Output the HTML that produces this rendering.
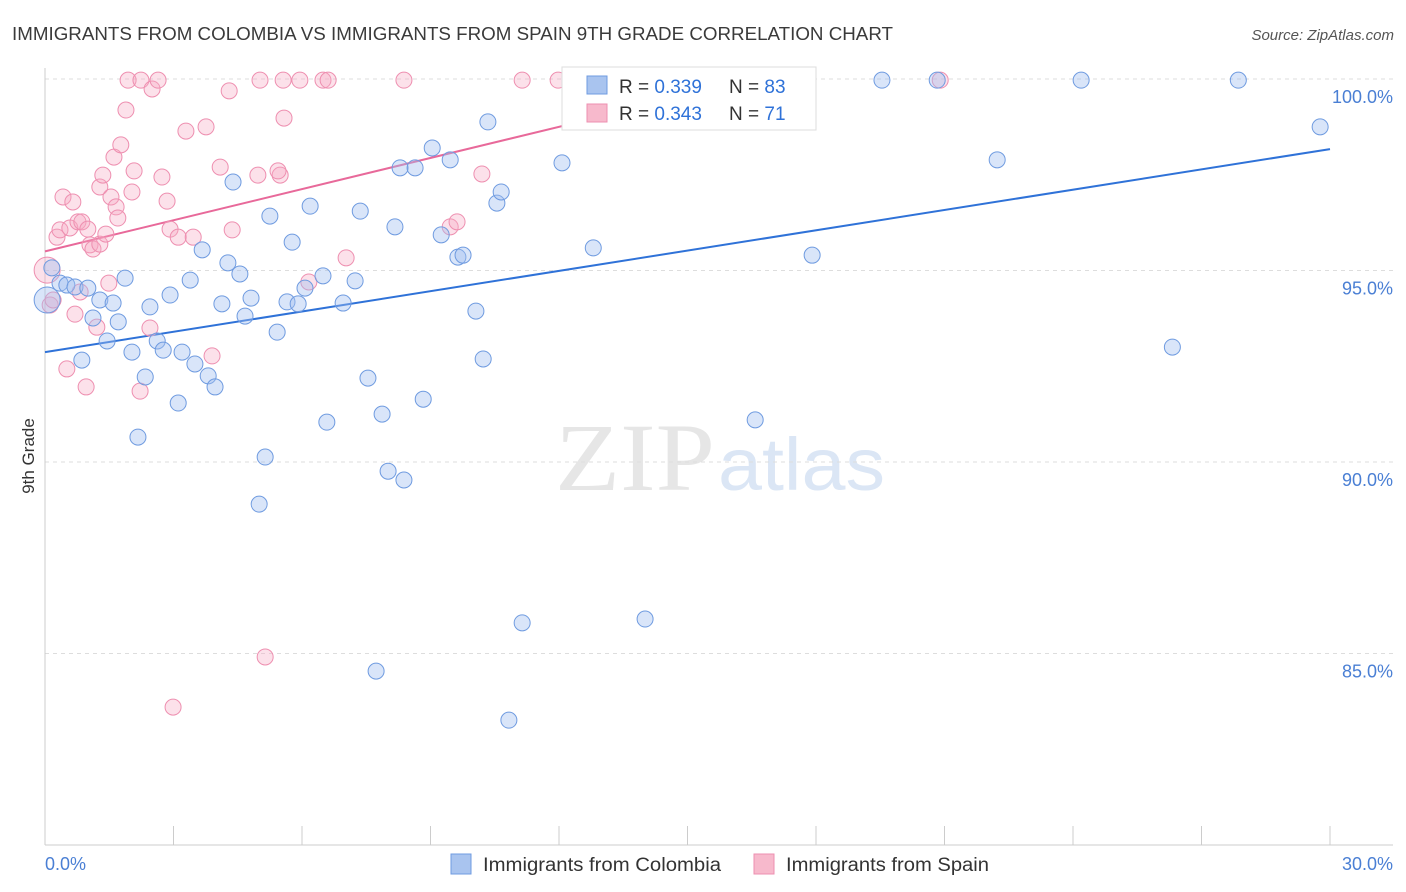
<!DOCTYPE html>
<html><head><meta charset="utf-8"><style>
body{margin:0;background:#fff;font-family:"Liberation Sans",sans-serif;}
svg{display:block}
</style></head><body>
<svg id="chart" width="1406" height="892">
<text x="12" y="40" font-size="18" fill="#3a3a3a" textLength="881" lengthAdjust="spacingAndGlyphs">IMMIGRANTS FROM COLOMBIA VS IMMIGRANTS FROM SPAIN 9TH GRADE CORRELATION CHART</text>
<text x="1394" y="40" font-size="15" fill="#555" text-anchor="end" font-style="italic">Source: ZipAtlas.com</text>
<text x="34" y="456" font-size="17" fill="#333" transform="rotate(-90 34 456)" text-anchor="middle">9th Grade</text>
<text x="555" y="490" font-size="96" fill="#e6e6e6" textLength="160" lengthAdjust="spacingAndGlyphs" font-family="Liberation Serif,serif">ZIP</text>
<text x="718" y="490" font-size="74" fill="#dbe6f5" textLength="167" lengthAdjust="spacingAndGlyphs">atlas</text>
<g id="grid"></g><g id="axes"></g><g id="lines"></g><g id="pts"></g>
<g>
<rect x="562" y="67" width="254" height="63" fill="#fff" stroke="#ddd"/>
<rect x="587" y="76" width="20" height="18" fill="#a9c4ef" stroke="#6f9be0"/>
<rect x="587" y="104" width="20" height="18" fill="#f7b9cc" stroke="#ee8fb0"/>
<text x="619" y="93" font-size="19" fill="#333">R = <tspan fill="#2f72d8">0.339</tspan></text>
<text x="729" y="93" font-size="19" fill="#333">N = <tspan fill="#2f72d8">83</tspan></text>
<text x="619" y="120" font-size="19" fill="#333">R = <tspan fill="#2f72d8">0.343</tspan></text>
<text x="729" y="120" font-size="19" fill="#333">N = <tspan fill="#2f72d8"> 71</tspan></text>
</g>
<g>
<rect x="451" y="854" width="20" height="20" fill="#a9c4ef" stroke="#6f9be0"/>
<text x="483" y="871" font-size="19" fill="#333" textLength="238" lengthAdjust="spacingAndGlyphs">Immigrants from Colombia</text>
<rect x="754" y="854" width="20" height="20" fill="#f7b9cc" stroke="#ee8fb0"/>
<text x="786" y="871" font-size="19" fill="#333" textLength="203" lengthAdjust="spacingAndGlyphs">Immigrants from Spain</text>
</g>
</svg>
<script>
const yTicks=[100,95,90,85];
const xTickLabels=["0.0%","30.0%"];
const blueX=[0.05,0.16,0.35,0.51,0.70,1.00,0.86,1.12,1.28,1.45,1.59,1.71,1.87,2.03,2.17,2.34,2.45,2.62,2.76,2.92,3.11,3.20,3.39,3.50,3.67,3.81,3.97,4.13,4.27,4.39,4.55,4.67,4.81,5.00,5.14,5.25,5.42,5.65,5.77,5.91,6.07,6.19,6.49,6.58,6.96,7.24,7.36,7.54,7.87,8.01,8.17,8.29,8.38,8.64,8.83,9.04,9.25,9.46,9.64,9.76,10.06,10.23,10.34,10.55,10.65,10.83,11.14,12.07,12.80,13.80,14.01,16.58,17.91,19.54,20.83,22.23,24.19,26.32,27.86,29.77,7.73,13.10];
const blueY=[94.23,95.07,94.67,94.62,94.57,94.54,92.66,93.76,94.23,93.16,94.15,93.66,94.80,92.87,90.65,92.22,94.05,93.16,92.92,94.36,91.54,92.87,94.75,92.56,95.54,92.25,91.96,94.13,95.20,97.31,94.91,93.81,94.28,88.90,90.13,96.42,93.39,94.18,95.74,94.13,94.54,96.68,94.86,91.04,94.15,94.73,96.55,92.19,91.25,89.76,96.14,97.68,89.53,97.68,91.64,98.20,95.93,97.89,95.35,95.40,93.94,92.69,98.88,96.76,97.05,83.26,85.80,97.81,95.59,99.97,85.90,91.10,95.40,99.97,99.97,97.89,99.97,93.00,99.97,98.75,84.54,99.97];
const pinkX=[0.05,0.12,0.19,0.28,0.35,0.42,0.51,0.58,0.65,0.70,0.77,0.82,0.86,0.96,1.00,1.05,1.12,1.21,1.28,1.28,1.35,1.42,1.49,1.54,1.61,1.66,1.70,1.77,1.89,1.94,2.03,2.08,2.22,2.24,2.45,2.50,2.64,2.73,2.85,2.92,2.99,3.11,3.29,3.46,3.76,3.90,4.09,4.30,4.37,4.97,5.02,5.14,5.49,5.56,5.58,5.95,6.16,6.49,6.61,7.03,8.38,9.46,9.62,10.20,11.14,11.98,20.90,5.44];
const pinkY=[95.01,94.10,94.23,95.87,96.06,96.92,92.43,96.11,96.79,93.86,96.27,94.44,96.27,91.96,96.08,95.67,95.56,93.52,95.69,97.18,97.49,95.95,94.67,96.92,97.96,96.66,96.37,98.28,99.19,99.97,97.05,97.60,91.85,99.97,93.50,99.74,99.97,97.44,96.81,96.08,83.60,95.87,98.64,95.87,98.75,92.77,97.70,99.69,96.06,97.49,99.97,84.91,97.49,99.97,98.98,99.97,94.70,99.97,99.97,95.33,99.97,96.14,96.27,97.52,99.97,99.97,99.97,97.60];
const blueTrend=[92.87,98.17];
const pinkTrend=[95.50,99.97,16.5];
const NS="http://www.w3.org/2000/svg";
const X=v=>45+v/30*1285, Y=v=>845-(v-80)/20*766;
function mk(t,a,p){const e=document.createElementNS(NS,t);for(const k in a)e.setAttribute(k,a[k]);p.appendChild(e);return e;}
const grid=document.getElementById('grid'),axes=document.getElementById('axes');
yTicks.forEach(t=>{const l=mk('line',{x1:45,x2:1393,y1:Y(t),y2:Y(t),stroke:'#ddd','stroke-dasharray':'4 4'},grid);


const tx=mk('text',{x:1393,y:Y(t)+24,'font-size':18,fill:'#4a7fd4','text-anchor':'end'},axes);tx.textContent=t.toFixed(1)+'%';

});
mk('line',{x1:45,x2:45,y1:68,y2:845,stroke:'#ccc'},axes);
mk('line',{x1:45,x2:1393,y1:845,y2:845,stroke:'#ccc'},axes);
for(let i=0;i<=10;i++){mk('line',{x1:X(i*3),x2:X(i*3),y1:826,y2:845,stroke:'#ccc'},axes);}
const xl0=mk('text',{x:45,y:870,'font-size':18,fill:'#4a7fd4'},axes);xl0.textContent=xTickLabels[0];


const xl1=mk('text',{x:1393,y:870,'font-size':18,fill:'#4a7fd4','text-anchor':'end'},axes);xl1.textContent=xTickLabels[1];


const pts=document.getElementById('pts');
pinkX.forEach((x,i)=>{const c=mk('circle',{cx:X(x),cy:Y(pinkY[i]),r:i==0?13:8,fill:'rgba(245,170,195,0.35)',stroke:'#ee8fb0','stroke-width':1},pts);

});
blueX.forEach((x,i)=>{const c=mk('circle',{cx:X(x),cy:Y(blueY[i]),r:i==0?13:8,fill:'rgba(160,190,240,0.4)',stroke:'#6f9be0','stroke-width':1},pts);

});
const lines=document.getElementById('lines');
const bl=mk('line',{x1:X(0),y1:Y(blueTrend[0]),x2:X(30),y2:Y(blueTrend[1]),stroke:'#2f72d8','stroke-width':2},lines);


const pl=mk('line',{x1:X(0),y1:Y(pinkTrend[0]),x2:X(pinkTrend[2]),y2:Y(pinkTrend[1]),stroke:'#e8699a','stroke-width':2},lines);


</script>
</body></html>
